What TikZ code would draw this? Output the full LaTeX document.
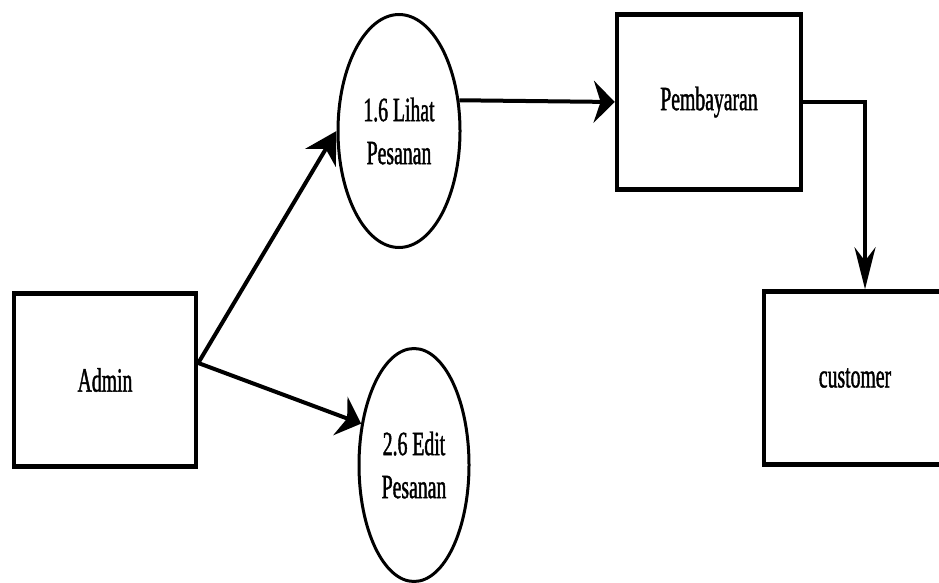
\documentclass[tikz,border=0pt]{standalone}
\usepackage{fontspec}
\newfontfamily\dfdfont[FakeStretch=0.58, FakeBold=1.2]{Liberation Serif}
\usetikzlibrary{shapes.geometric}
\usetikzlibrary{arrows.meta}

\begin{document}
\begin{tikzpicture}[x=1pt, y=-1pt,
    every node/.style={font=\dfdfont\fontsize{34}{43}\selectfont, align=center, inner sep=0pt},
    entity/.style={draw, line width=4.5pt, minimum width=182pt, minimum height=173pt},
    process/.style={draw, ellipse, line width=3pt, minimum width=122pt, minimum height=233pt},
    flow/.style={line width=4pt}]
    % frame of the picture
    \useasboundingbox (0,0) rectangle (939,583);
    \clip (0,0) rectangle (939,583);

    % draw nodes
    \node[entity] (admin) at (105,380) {Admin};
    \node[process] (lihat) at (399,131) {1.6 Lihat\\Pesanan};
    \node[process, minimum width=110pt] (edit) at (414,465) {2.6 Edit\\Pesanan};
    \node[entity, minimum width=184pt, minimum height=175pt] (bayar) at (709,102) {Pembayaran};
    \node[entity] (cust) at (855,378) {customer};

    % draw flows
    \draw[flow, -{Stealth[length=31pt, width=35pt]}] ([yshift=17pt]admin.east) -- (lihat.west);
    \draw[flow, -{Stealth[length=22pt, width=41pt]}] ([yshift=17pt]admin.east) -- (edit.142);
    \draw[flow, -{Stealth[length=21pt, width=42pt]}] (lihat.27) -- (bayar.west);
    \draw[flow, -{Stealth[length=42pt, width=21pt]}] (bayar.east) -| ([xshift=10pt]cust.north);
\end{tikzpicture}
\end{document}
